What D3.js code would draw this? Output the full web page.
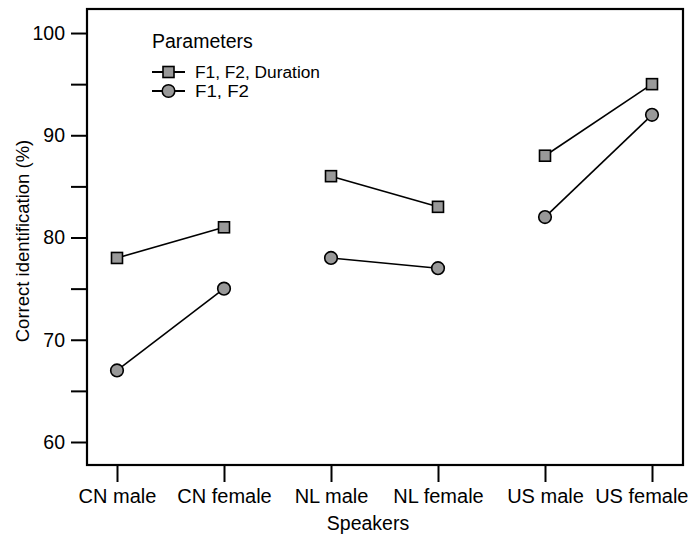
<!DOCTYPE html>
<html>
<head>
<meta charset="utf-8">
<script src="https://cdn.jsdelivr.net/npm/d3@7"></script>
<style>
  html, body { margin: 0; padding: 0; background: #fff; }
  text { font-family: "Liberation Sans", Arial, sans-serif; fill: #000; }
</style>
</head>
<body>
<svg id="chart" width="690" height="535"></svg>
<script>
// Speaker groups along the x axis
const speakers = ["CN male", "CN female", "NL male", "NL female", "US male", "US female"];
// Correct identification (%) for each parameter set
const withDuration = [78, 81, 86, 83, 88, 95];
const formantsOnly = [67, 75, 78, 77, 82, 92];
const seriesNames = ["F1, F2, Duration", "F1, F2"];
const yMajorTicks = [60, 70, 80, 90, 100];
const yMinorTicks = [65, 75, 85, 95];

const svg = d3.select("#chart");
const box = { left: 87, top: 9, right: 683, bottom: 465 };
const W = 690;

const x = d3.scalePoint()
  .domain(speakers)
  .range([117, 652]);

const y = d3.scaleLinear()
  .domain([57.75, 102.35])
  .range([box.bottom, box.top]);

// Y axis: major ticks with labels, minor ticks without
const yAxis = svg.append("g")
  .attr("transform", `translate(${box.left},0)`)
  .call(d3.axisLeft(y).tickValues(yMajorTicks).tickSize(16).tickPadding(6).tickFormat(d3.format("d")));
yAxis.select(".domain").remove();
yAxis.selectAll("line").attr("stroke", "#000").attr("stroke-width", 2);
yAxis.selectAll("text").style("font-size", "19.5px").attr("font-family", null);

const yMinor = svg.append("g")
  .attr("transform", `translate(${box.left},0)`)
  .call(d3.axisLeft(y).tickValues(yMinorTicks).tickSize(16).tickFormat(""));
yMinor.select(".domain").remove();
yMinor.selectAll("line").attr("stroke", "#000").attr("stroke-width", 2);

// X axis
const xAxis = svg.append("g")
  .attr("transform", `translate(0,${box.bottom})`)
  .call(d3.axisBottom(x).tickSize(17).tickPadding(7));
xAxis.select(".domain").remove();
xAxis.selectAll("line").attr("stroke", "#000").attr("stroke-width", 2);
xAxis.selectAll("text").style("font-size", "20px").attr("font-family", null);
// keep the outermost label inside the page
xAxis.selectAll(".tick").each(function (d) {
  const t = d3.select(this).select("text");
  const w = t.node().getComputedTextLength();
  const overflow = x(d) + w / 2 - (W - 2);
  if (overflow > 0) t.attr("x", -overflow);
});

// Plot frame
svg.append("rect")
  .attr("x", box.left).attr("y", box.top)
  .attr("width", box.right - box.left).attr("height", box.bottom - box.top)
  .attr("fill", "none").attr("stroke", "#000").attr("stroke-width", 2.2);

// Axis titles
svg.append("text")
  .attr("x", 368).attr("y", 530)
  .attr("text-anchor", "middle").style("font-size", "19.5px")
  .text("Speakers");
svg.append("text")
  .attr("transform", `translate(29,241) rotate(-90)`)
  .attr("text-anchor", "middle").style("font-size", "18.5px")
  .text("Correct identification (%)");

const pairs = [[0, 1], [2, 3], [4, 5]];

function drawSeries(values, marker) {
  const g = svg.append("g");
  pairs.forEach(p => {
    g.append("path")
      .datum(p.map(i => values[i]))
      .attr("d", d3.line().x((d, k) => x(speakers[p[k]])).y(d => y(d)))
      .attr("fill", "none").attr("stroke", "#000").attr("stroke-width", 1.6);
  });
  values.forEach((v, i) => marker(g, x(speakers[i]), y(v)));
}

const squareMarker = (g, cx, cy) => g.append("rect")
  .attr("x", cx - 5.5).attr("y", cy - 5.5).attr("width", 11).attr("height", 11)
  .attr("fill", "#999").attr("stroke", "#000").attr("stroke-width", 1.6);
const circleMarker = (g, cx, cy) => g.append("circle")
  .attr("cx", cx).attr("cy", cy).attr("r", 6.3)
  .attr("fill", "#999").attr("stroke", "#000").attr("stroke-width", 1.6);

drawSeries(withDuration, squareMarker);
drawSeries(formantsOnly, circleMarker);

// Legend
const legend = svg.append("g");
legend.append("text").attr("x", 152).attr("y", 48).style("font-size", "19.5px").text("Parameters");
const legendRows = [
  { name: seriesNames[0], marker: squareMarker, yy: 72, len: 125 },
  { name: seriesNames[1], marker: circleMarker, yy: 91, len: 54 }
];
legendRows.forEach(r => {
  legend.append("line").attr("x1", 152).attr("x2", 185).attr("y1", r.yy).attr("y2", r.yy)
    .attr("stroke", "#000").attr("stroke-width", 1.8);
  r.marker(legend, 168.5, r.yy);
  legend.append("text").attr("x", 195).attr("y", r.yy + 6)
    .style("font-size", "16px")
    .attr("textLength", r.len).attr("lengthAdjust", "spacingAndGlyphs")
    .text(r.name);
});
</script>
</body>
</html>
